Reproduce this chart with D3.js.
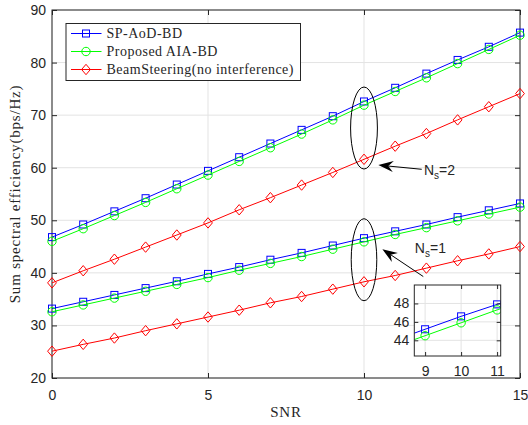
<!DOCTYPE html>
<html>
<head>
<meta charset="utf-8">
<script src="https://cdn.jsdelivr.net/npm/d3@7"></script>
<style>
body { margin: 0; background: #fff; }
svg text { font-family: "Liberation Sans", Arial, sans-serif; fill: #262626; }
.serif { font-family: "Liberation Serif", "Times New Roman", serif; }
</style>
</head>
<body>
<div id="chart"></div>
<script>
// data
var snr = [0, 1, 2, 3, 4, 5, 6, 7, 8, 9, 10, 11, 12, 13, 14, 15];

var spAodNs2   = [46.8, 49.2, 51.7, 54.2, 56.8, 59.4, 62.0, 64.6, 67.2, 69.8, 72.6, 75.2, 77.9, 80.5, 83.0, 85.7];
var aiaNs2     = [46.0, 48.4, 50.9, 53.4, 56.0, 58.6, 61.2, 63.8, 66.4, 69.1, 71.9, 74.5, 77.1, 79.8, 82.5, 85.2];
var beamNs2    = [38.1, 40.4, 42.6, 44.9, 47.2, 49.5, 52.0, 54.3, 56.7, 59.1, 61.6, 64.1, 66.5, 69.1, 71.6, 74.1];

var spAodNs1   = [33.2, 34.5, 35.8, 37.1, 38.4, 39.8, 41.1, 42.5, 43.8, 45.2, 46.6, 47.9, 49.2, 50.6, 51.9, 53.2];
var aiaNs1     = [32.6, 33.9, 35.2, 36.5, 37.8, 39.1, 40.5, 41.8, 43.1, 44.5, 45.9, 47.3, 48.6, 49.9, 51.2, 52.5];
var beamNs1    = [25.1, 26.4, 27.6, 29.0, 30.3, 31.6, 32.9, 34.3, 35.5, 36.9, 38.3, 39.5, 40.9, 42.3, 43.6, 45.0];

var legendNames = ["SP-AoD-BD", "Proposed AIA-BD", "BeamSteering(no interference)"];
var xTicks = [0, 5, 10, 15];
var yTicks = [20, 30, 40, 50, 60, 70, 80, 90];
var insetXTicks = [9, 10, 11];
var insetYTicks = [44, 46, 48];

// ellipses + arrows, in data units
var groups = [
  { label: "2", cx: 10, cy: 67.55, rx: 0.43, ry: 7.8, tip: [10.46, 60.5], tail: [11.85, 59.7], text: [11.92, 58.6] },
  { label: "1", cx: 10, cy: 42.5,  rx: 0.41, ry: 7.8, tip: [10.59, 44.5], tail: [11.9, 39.3],  text: [11.63, 43.7] }
];

var width = 528, height = 425;
var x = d3.scaleLinear().domain([0, 15]).range([52, 520]);
var y = d3.scaleLinear().domain([20, 90]).range([378, 10]);

var series = [
  { vals: spAodNs2, color: "#0000ff", mark: "square" },
  { vals: aiaNs2,   color: "#00ff00", mark: "circle" },
  { vals: beamNs2,  color: "#ff0000", mark: "diamond" },
  { vals: spAodNs1, color: "#0000ff", mark: "square" },
  { vals: aiaNs1,   color: "#00ff00", mark: "circle" },
  { vals: beamNs1,  color: "#ff0000", mark: "diamond" }
];

var svg = d3.select("#chart").append("svg")
    .attr("width", width)
    .attr("height", height);

var axisColor = "#262626";

//draw a marker at px,py
function marker(g, kind, px, py, color) {
  if (kind == "square") {
    g.append("rect").attr("x", px - 3.5).attr("y", py - 3.5)
      .attr("width", 7).attr("height", 7)
      .attr("fill", "none").attr("stroke", color);
  } else if (kind == "circle") {
    g.append("circle").attr("cx", px).attr("cy", py).attr("r", 4.2)
      .attr("fill", "none").attr("stroke", color);
  } else {
    g.append("path")
      .attr("d", "M" + px + "," + (py - 5.2) + "L" + (px + 4.4) + "," + py + "L" + px + "," + (py + 5.2) + "L" + (px - 4.4) + "," + py + "Z")
      .attr("fill", "none").attr("stroke", color);
  }
}

function drawSeries(g, xs, ys, s) {
  var line = d3.line()
    .x(function(d, i) { return xs(snr[i]); })
    .y(function(d) { return ys(d); });
  g.append("path").datum(s.vals)
    .attr("d", line)
    .attr("fill", "none")
    .attr("stroke", s.color)
    .attr("stroke-width", 1);
  s.vals.forEach(function(v, i) {
    marker(g, s.mark, xs(snr[i]), ys(v), s.color);
  });
}

// grid
var grid = svg.append("g");
xTicks.forEach(function(t) {
  grid.append("line").attr("x1", x(t)).attr("x2", x(t)).attr("y1", y(20)).attr("y2", y(90))
    .attr("stroke", "#e3e3e3");
});
yTicks.forEach(function(t) {
  grid.append("line").attr("x1", x(0)).attr("x2", x(15)).attr("y1", y(t)).attr("y2", y(t))
    .attr("stroke", "#e3e3e3");
});

// axes
function styleAxis(g) {
  g.select(".domain").remove();
  g.selectAll("line").attr("stroke", axisColor);
  g.selectAll("text").attr("fill", axisColor).style("font-size", "14px")
    .style("font-family", "'Liberation Sans', Arial, sans-serif");
}

var fmt = d3.format("d");

svg.append("g").attr("transform", "translate(0," + y(20) + ")")
  .call(d3.axisBottom(x).tickValues(xTicks).tickFormat(fmt).tickSizeInner(-5).tickSizeOuter(0).tickPadding(12))
  .call(styleAxis);
svg.append("g").attr("transform", "translate(0," + y(90) + ")")
  .call(d3.axisTop(x).tickValues(xTicks).tickSizeInner(-5).tickSizeOuter(0).tickFormat(""))
  .call(styleAxis);
svg.append("g").attr("transform", "translate(" + x(0) + ",0)")
  .call(d3.axisLeft(y).tickValues(yTicks).tickFormat(fmt).tickSizeInner(-5).tickSizeOuter(0).tickPadding(6))
  .call(styleAxis);
svg.append("g").attr("transform", "translate(" + x(15) + ",0)")
  .call(d3.axisRight(y).tickValues(yTicks).tickSizeInner(-5).tickSizeOuter(0).tickFormat(""))
  .call(styleAxis);

svg.append("rect")
  .attr("x", x(0)).attr("y", y(90))
  .attr("width", x(15) - x(0)).attr("height", y(20) - y(90))
  .attr("fill", "none").attr("stroke", axisColor);

// lines
var plot = svg.append("g");
series.forEach(function(s) { drawSeries(plot, x, y, s); });

// ellipses and arrows
var ann = svg.append("g");
groups.forEach(function(a) {
  ann.append("ellipse")
    .attr("cx", x(a.cx)).attr("cy", y(a.cy))
    .attr("rx", x(a.cx + a.rx) - x(a.cx)).attr("ry", y(a.cy) - y(a.cy + a.ry))
    .attr("fill", "none").attr("stroke", "#000").attr("stroke-width", 1);

  var tx = x(a.tip[0]), ty = y(a.tip[1]);
  var sx = x(a.tail[0]), sy = y(a.tail[1]);
  var ang = Math.atan2(sy - ty, sx - tx);
  var c = Math.cos(ang), s = Math.sin(ang);
  var L = 15, W = 5.5, N = 10;
  ann.append("line")
    .attr("x1", sx).attr("y1", sy)
    .attr("x2", tx + c * N).attr("y2", ty + s * N)
    .attr("stroke", "#000").attr("stroke-width", 1);
  var pts = [
    [tx, ty],
    [tx + c * L - s * W, ty + s * L + c * W],
    [tx + c * N, ty + s * N],
    [tx + c * L + s * W, ty + s * L - c * W]
  ];
  ann.append("path").attr("d", "M" + pts.join("L") + "Z").attr("fill", "#000");

  var t = ann.append("text")
    .attr("x", x(a.text[0])).attr("y", y(a.text[1]))
    .style("font-size", "14px").attr("fill", "#000");
  t.append("tspan").text("N");
  t.append("tspan").attr("dy", 4).style("font-size", "10px").text("s");
  t.append("tspan").attr("dy", -4).text("=" + a.label);
});

// legend
var leg = svg.append("g");
leg.append("rect").attr("x", 66).attr("y", 23.5).attr("width", 234.5).attr("height", 57)
  .attr("fill", "#fff").attr("stroke", axisColor);
series.slice(0, 3).forEach(function(s, i) {
  var ly = 33.5 + i * 18;
  leg.append("line").attr("x1", 71).attr("x2", 101.5).attr("y1", ly).attr("y2", ly)
    .attr("stroke", s.color);
  marker(leg, s.mark, 86, ly, s.color);
  leg.append("text").attr("class", "serif")
    .attr("x", 106.5).attr("y", ly + 4.5)
    .style("font-size", "14px").style("letter-spacing", "0.5px")
    .attr("fill", "#000")
    .text(legendNames[i]);
});

// axis labels
svg.append("text").attr("class", "serif")
  .attr("x", x(7.5)).attr("y", 417)
  .attr("text-anchor", "middle")
  .style("font-size", "15px").style("letter-spacing", "0.8px")
  .attr("fill", "#000")
  .text("SNR");
svg.append("text").attr("class", "serif")
  .attr("transform", "translate(19.5," + y(55) + ") rotate(-90)")
  .attr("text-anchor", "middle")
  .style("font-size", "15px").style("letter-spacing", "0.8px")
  .attr("fill", "#000")
  .text("Sum spectral efficiency(bps/Hz)");

// inset zoom around snr 9..11
var xi = d3.scaleLinear().domain([8.7, 11.1]).range([414.3, 500.7]);
var yi = d3.scaleLinear().domain([42.3, 50]).range([356, 285]);

var inset = svg.append("g");
inset.append("rect")
  .attr("x", xi(8.7)).attr("y", yi(50))
  .attr("width", xi(11.1) - xi(8.7)).attr("height", yi(42.3) - yi(50))
  .attr("fill", "#fff");
insetXTicks.forEach(function(t) {
  inset.append("line").attr("x1", xi(t)).attr("x2", xi(t)).attr("y1", yi(42.3)).attr("y2", yi(50))
    .attr("stroke", "#e3e3e3");
});
insetYTicks.forEach(function(t) {
  inset.append("line").attr("x1", xi(8.7)).attr("x2", xi(11.1)).attr("y1", yi(t)).attr("y2", yi(t))
    .attr("stroke", "#e3e3e3");
});

svg.append("clipPath").attr("id", "insetClip")
  .append("rect")
  .attr("x", xi(8.7)).attr("y", yi(50))
  .attr("width", xi(11.1) - xi(8.7)).attr("height", yi(42.3) - yi(50));

var insetPlot = inset.append("g").attr("clip-path", "url(#insetClip)");
drawSeries(insetPlot, xi, yi, series[3]);
drawSeries(insetPlot, xi, yi, series[4]);

inset.append("g").attr("transform", "translate(0," + yi(42.3) + ")")
  .call(d3.axisBottom(xi).tickValues(insetXTicks).tickFormat(fmt).tickSizeInner(-4).tickSizeOuter(0).tickPadding(10))
  .call(styleAxis);
inset.append("g").attr("transform", "translate(0," + yi(50) + ")")
  .call(d3.axisTop(xi).tickValues(insetXTicks).tickSizeInner(-4).tickSizeOuter(0).tickFormat(""))
  .call(styleAxis);
inset.append("g").attr("transform", "translate(" + xi(8.7) + ",0)")
  .call(d3.axisLeft(yi).tickValues(insetYTicks).tickFormat(fmt).tickSizeInner(-4).tickSizeOuter(0).tickPadding(5))
  .call(styleAxis);
inset.append("g").attr("transform", "translate(" + xi(11.1) + ",0)")
  .call(d3.axisRight(yi).tickValues(insetYTicks).tickSizeInner(-4).tickSizeOuter(0).tickFormat(""))
  .call(styleAxis);
inset.append("rect")
  .attr("x", xi(8.7)).attr("y", yi(50))
  .attr("width", xi(11.1) - xi(8.7)).attr("height", yi(42.3) - yi(50))
  .attr("fill", "none").attr("stroke", axisColor);
</script>
</body>
</html>
